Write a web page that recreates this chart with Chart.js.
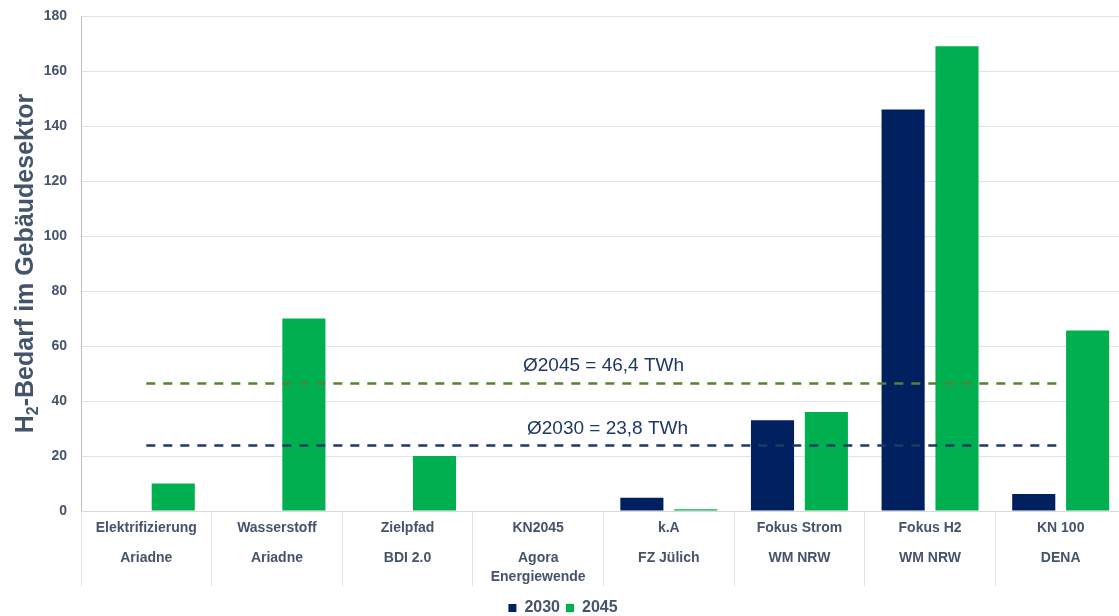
<!DOCTYPE html>
<html lang="de">
<head>
<meta charset="utf-8">
<title>H2-Bedarf im Gebäudesektor</title>
<script src="https://cdn.jsdelivr.net/npm/chart.js@4.4.1/dist/chart.umd.min.js"></script>
<style>
  html, body { margin: 0; padding: 0; background: #ffffff; overflow: hidden; }
  #wrap { width: 1127px; height: 616px; }
</style>
</head>
<body>
<div id="wrap"><canvas id="chart" width="1127" height="616"></canvas></div>
<script>
// Szenario (Zeile 1) und Studie (Zeile 2) je Kategorie
const scenarios = ['Elektrifizierung', 'Wasserstoff', 'Zielpfad', 'KN2045', 'k.A', 'Fokus Strom', 'Fokus H2', 'KN 100'];
const sources = ['Ariadne', 'Ariadne', 'BDI 2.0', ['Agora', 'Energiewende'], 'FZ Jülich', 'WM NRW', 'WM NRW', 'DENA'];

// H2-Bedarf in TWh
const values2030 = [null, null, null, null, 4.8, 33, 146, 6.2];
const values2045 = [10, 70, 20, null, 0.6, 36, 169, 65.6];

// Durchschnittswerte
const avg2030 = 23.8;
const avg2045 = 46.4;
const avgLabel2030 = 'Ø2030 = 23,8 TWh';
const avgLabel2045 = 'Ø2045 = 46,4 TWh';

const yTicks = { min: 0, max: 180, step: 20 };

const FONT = "'Liberation Sans', Arial, sans-serif";
const TEXT = '#44546A';
const NAVY = '#002060';
const GREEN = '#00B050';

// Achsentitel mit tiefgestellter 2
const yTitlePlugin = {
  id: 'yTitle',
  afterDraw(chart) {
    const ctx = chart.ctx;
    const area = chart.chartArea;
    const cy = (area.top + area.bottom) / 2;
    const big = 'bold 25px ' + FONT;
    const small = 'bold 16px ' + FONT;
    ctx.save();
    ctx.fillStyle = TEXT;
    ctx.textBaseline = 'alphabetic';
    ctx.textAlign = 'left';
    ctx.font = big;
    const wH = ctx.measureText('H').width;
    const wRest = ctx.measureText('-Bedarf im Gebäudesektor').width;
    ctx.font = small;
    const w2 = ctx.measureText('2').width;
    const total = wH + w2 + wRest;
    ctx.translate(33, cy);
    ctx.rotate(-Math.PI / 2);
    let x = -total / 2;
    ctx.font = big;
    ctx.fillText('H', x, 0);
    x += wH;
    ctx.font = small;
    ctx.fillText('2', x, 5);
    x += w2;
    ctx.font = big;
    ctx.fillText('-Bedarf im Gebäudesektor', x, 0);
    ctx.restore();
  }
};

// Beschriftung der Durchschnittslinien
const avgLabelPlugin = {
  id: 'avgLabels',
  afterDatasetsDraw(chart) {
    const ctx = chart.ctx;
    const y = chart.scales.y;
    const area = chart.chartArea;
    const cx = (area.left + area.right) / 2;
    ctx.save();
    ctx.font = '19px ' + FONT;
    ctx.fillStyle = '#1F3864';
    ctx.textAlign = 'center';
    ctx.textBaseline = 'middle';
    ctx.fillText(avgLabel2045, cx, y.getPixelForValue(avg2045) - 18);
    ctx.fillText(avgLabel2030, cx + 4, y.getPixelForValue(avg2030) - 17);
    ctx.restore();
  }
};

new Chart(document.getElementById('chart'), {
  type: 'bar',
  data: {
    labels: scenarios,
    datasets: [
      {
        label: '2030',
        data: values2030,
        backgroundColor: NAVY,
        categoryPercentage: 0.825,
        barPercentage: 0.8,
        order: 2
      },
      {
        label: '2045',
        data: values2045,
        backgroundColor: GREEN,
        categoryPercentage: 0.825,
        barPercentage: 0.8,
        order: 2
      },
      {
        type: 'line',
        label: 'Ø2045',
        data: scenarios.map(() => avg2045),
        borderColor: '#548235',
        borderWidth: 2.5,
        borderDash: [9, 8],
        pointRadius: 0,
        fill: false,
        order: 1
      },
      {
        type: 'line',
        label: 'Ø2030',
        data: scenarios.map(() => avg2030),
        borderColor: '#1F3864',
        borderWidth: 2.5,
        borderDash: [9, 8],
        pointRadius: 0,
        fill: false,
        order: 1
      }
    ]
  },
  options: {
    responsive: false,
    animation: false,
    devicePixelRatio: 1,
    layout: { padding: { top: 16, right: 1, left: 0, bottom: 0 } },
    plugins: {
      tooltip: { enabled: false },
      legend: {
        position: 'bottom',
        maxHeight: 22,
        labels: {
          filter: (item) => item.datasetIndex < 2,
          boxWidth: 8,
          boxHeight: 8,
          padding: 6,
          color: TEXT,
          font: { family: FONT, size: 16, weight: 'bold' }
        }
      }
    },
    scales: {
      y: {
        min: yTicks.min,
        max: yTicks.max,
        ticks: {
          stepSize: yTicks.step,
          padding: 14,
          color: TEXT,
          font: { family: FONT, size: 14, weight: 'bold' }
        },
        grid: { color: '#DDE3EA', lineWidth: 1, drawTicks: false },
        border: { display: true, color: '#BFBFBF', width: 1 },
        afterFit(scale) {
          scale.width = 81;
          scale.paddingTop = 0;
          scale.paddingBottom = 0;
        }
      },
      x: {
        weight: 0,
        ticks: {
          autoSkip: false,
          maxRotation: 0,
          padding: -66,
          color: TEXT,
          font: { family: FONT, size: 14, weight: 'bold' }
        },
        grid: {
          offset: true,
          drawOnChartArea: false,
          drawTicks: true,
          tickLength: 75,
          color: '#DDE3EA'
        },
        border: { display: true, color: '#D9D9D9', width: 1 },
        afterFit(scale) { scale.height = 30; }
      },
      x2: {
        type: 'category',
        position: 'bottom',
        weight: 1,
        labels: sources,
        offset: true,
        ticks: {
          autoSkip: false,
          maxRotation: 0,
          padding: 8,
          color: TEXT,
          font: { family: FONT, size: 14, weight: 'bold', lineHeight: 1.35 }
        },
        grid: { display: false, drawTicks: false },
        border: { display: false },
        afterFit(scale) { scale.height = 53; }
      }
    }
  },
  plugins: [yTitlePlugin, avgLabelPlugin]
});
</script>
</body>
</html>
